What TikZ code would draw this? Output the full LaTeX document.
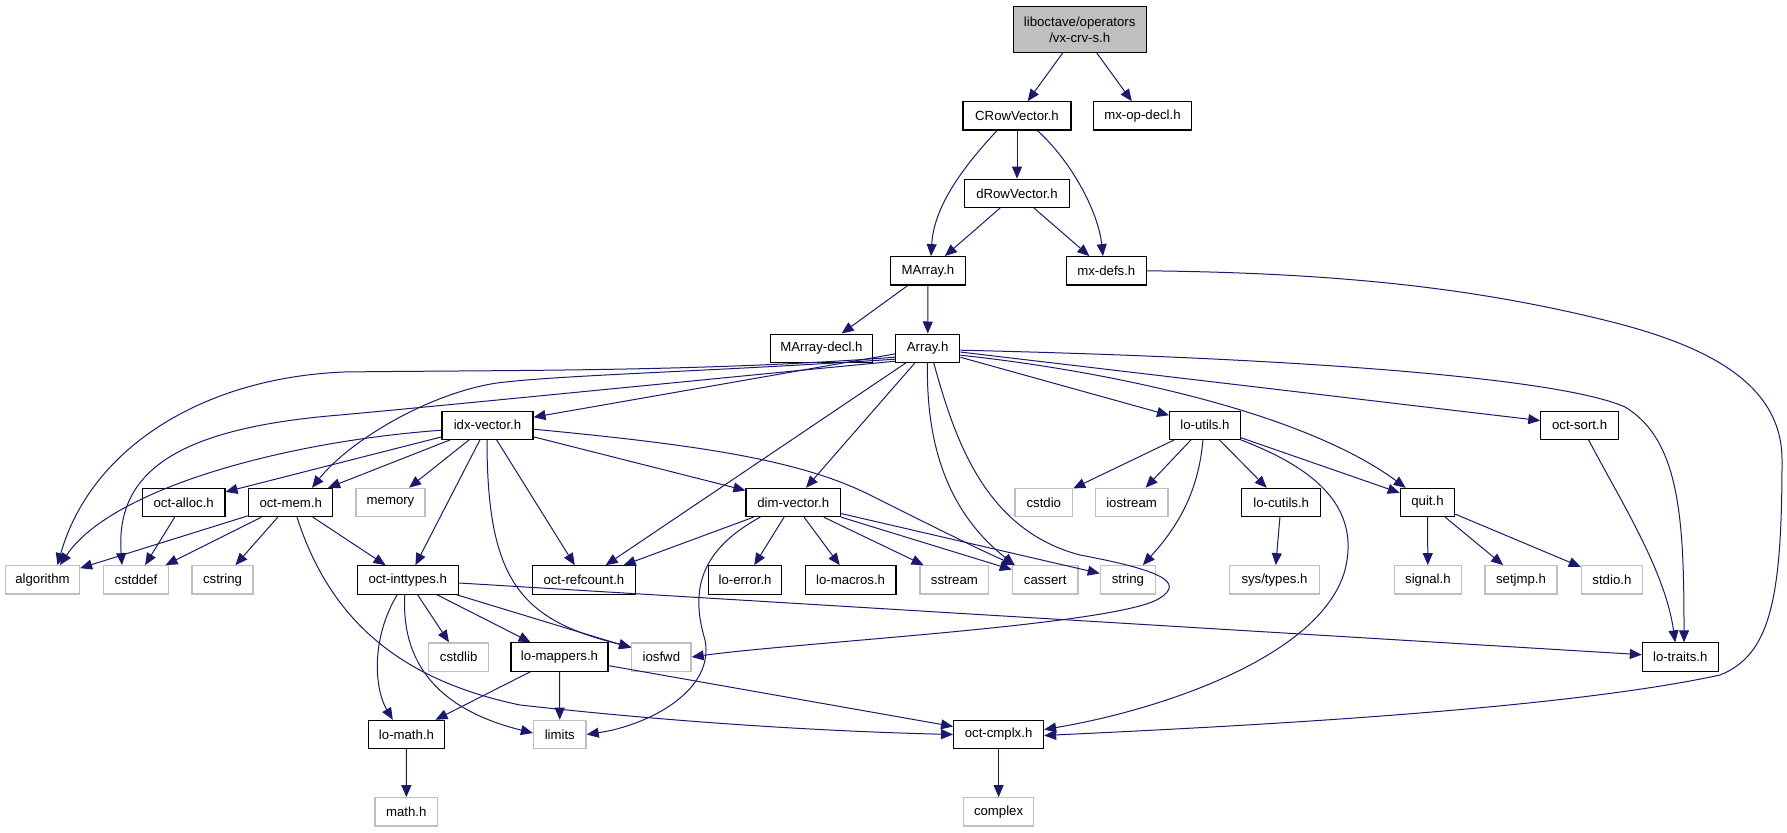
\documentclass[tikz,border=0pt]{standalone}
\usepackage{fontspec}
\setmainfont{Liberation Sans}
\usetikzlibrary{arrows.meta}
\definecolor{edgeblue}{RGB}{25,25,112}
\definecolor{sysgray}{RGB}{191,191,191}
\definecolor{rootfill}{RGB}{191,191,191}
\tikzset{
  box/.style={draw=black, line width=1.1pt, rectangle, inner sep=0pt, minimum height=28.3pt,
    font=\fontsize{13.2pt}{16pt}\selectfont, text=black, align=center},
  sys/.style={box, draw=sysgray, line width=1.3pt},
  edge/.style={draw=edgeblue, line width=1pt, -{Triangle[length=12pt,width=10pt]}},
}
\begin{document}
\begin{tikzpicture}[x=1pt,y=-1pt]
\useasboundingbox (0,0) rectangle (1787,832);
% row 0
\node[box, fill=rootfill, minimum width=132.8pt, minimum height=45.6pt] (root) at (1079.7,29.5) {liboctave/operators\\/vx-crv-s.h};
% row 1
\node[box, minimum width=108pt] (CRow) at (1017,115.9) {CRowVector.h};
\node[box, minimum width=97.6pt] (mxop) at (1142.5,115.9) {mx-op-decl.h};
% row 2
\node[box, minimum width=105.7pt] (dRow) at (1017,193.3) {dRowVector.h};
% row 3
\node[box, minimum width=75pt] (MArray) at (928,270.8) {MArray.h};
\node[box, minimum width=80.4pt] (mxdefs) at (1106.3,270.8) {mx-defs.h};
% row 4
\node[box, minimum width=102.7pt] (MArraydecl) at (821.4,348.2) {MArray-decl.h};
\node[box, minimum width=64.3pt] (Array) at (927.7,348.2) {Array.h};
% row 5
\node[box, minimum width=91pt] (idx) at (487.5,425.2) {idx-vector.h};
\node[box, minimum width=70.7pt] (loutils) at (1204.9,425.2) {lo-utils.h};
\node[box, minimum width=77.6pt] (octsort) at (1579.6,425.2) {oct-sort.h};
% row 6
\node[box, minimum width=82.6pt] (octalloc) at (183.7,502.5) {oct-alloc.h};
\node[box, minimum width=84pt] (octmem) at (290.7,502.5) {oct-mem.h};
\node[sys, minimum width=69pt] (memory) at (390.5,502.5) {memory};
\node[box, minimum width=94.5pt] (dimvec) at (793.2,502.5) {dim-vector.h};
\node[sys, minimum width=57.5pt] (cstdio) at (1043.8,502.5) {cstdio};
\node[sys, minimum width=72.6pt] (iostream) at (1131.6,502.5) {iostream};
\node[box, minimum width=78.8pt] (locutils) at (1281.2,502.5) {lo-cutils.h};
\node[box, minimum width=54.5pt] (quit) at (1427.5,502.5) {quit.h};
% row 7
\node[sys, minimum width=74pt] (algorithm) at (42.5,579.9) {algorithm};
\node[sys, minimum width=64.7pt] (cstddef) at (136,579.9) {cstddef};
\node[sys, minimum width=61pt] (cstring) at (222.5,579.9) {cstring};
\node[box, minimum width=101.5pt] (octint) at (407.8,579.9) {oct-inttypes.h};
\node[box, minimum width=102.7pt] (octref) at (583.9,579.9) {oct-refcount.h};
\node[box, minimum width=73pt] (loerror) at (745.1,579.9) {lo-error.h};
\node[box, minimum width=90.8pt] (lomacros) at (850.6,579.9) {lo-macros.h};
\node[sys, minimum width=68.8pt] (sstream) at (954.4,579.9) {sstream};
\node[sys, minimum width=65.6pt] (cassert) at (1045.2,579.9) {cassert};
\node[sys, minimum width=55pt] (string) at (1127.9,579.9) {string};
\node[sys, minimum width=90.6pt] (systypes) at (1274.5,579.9) {sys/types.h};
\node[sys, minimum width=66.7pt] (signal) at (1427.9,579.9) {signal.h};
\node[sys, minimum width=72pt] (setjmp) at (1521,579.9) {setjmp.h};
\node[sys, minimum width=61pt] (stdio) at (1611.9,579.9) {stdio.h};
% row 8
\node[sys, minimum width=60.2pt] (cstdlib) at (458.7,657) {cstdlib};
\node[box, minimum width=97pt] (lomappers) at (559.5,657) {lo-mappers.h};
\node[sys, minimum width=59.3pt] (iosfwd) at (661.4,657) {iosfwd};
\node[box, minimum width=75.7pt] (lotraits) at (1680.2,657) {lo-traits.h};
% row 9
\node[box, minimum width=76.3pt] (lomath) at (406.5,734.5) {lo-math.h};
\node[sys, minimum width=52.5pt] (limits) at (559.8,734.5) {limits};
\node[box, minimum width=90pt] (octcmplx) at (998.6,734.5) {oct-cmplx.h};
% row 10
\node[sys, minimum width=62.5pt] (mathh) at (406.3,811.9) {math.h};
\node[sys, minimum width=70.4pt] (complex) at (998.6,811.9) {complex};

% straight edges
\foreach \a/\b in {root/CRow, root/mxop, CRow/dRow, dRow/MArray, dRow/mxdefs,
  MArray/MArraydecl, MArray/Array, Array/idx, Array/octref, Array/dimvec, Array/loutils, Array/octsort,
  idx/octalloc, idx/octmem, idx/memory, idx/octint, idx/octref, idx/dimvec,
  octalloc/cstddef, octmem/algorithm, octmem/cstddef, octmem/cstring, octmem/octint,
  dimvec/octref, dimvec/loerror, dimvec/lomacros, dimvec/sstream, dimvec/cassert, dimvec/string,
  octint/cstdlib, octint/lomappers, octint/iosfwd, octint/lotraits,
  lomappers/lomath, lomappers/limits, lomappers/octcmplx, lomath/mathh, octcmplx/complex,
  loutils/cstdio, loutils/iostream, loutils/locutils, loutils/quit, locutils/systypes,
  quit/signal, quit/setjmp, quit/stdio}
  \draw[edge] (\a) -- (\b);

% curved edges
\draw[edge] ([xshift=-20pt]CRow.south) .. controls (965,165) and (934,205) .. ([xshift=3pt]MArray.north);
\draw[edge] ([xshift=20.4pt]CRow.south) .. controls (1070,160) and (1098,210) .. ([xshift=-3.3pt]mxdefs.north);
\draw[edge] (mxdefs.east) .. controls (1350,273) and (1480,290) .. (1600,319)
  .. controls (1700,343) and (1782,380) .. (1782,460)
  .. controls (1782,600) and (1770,655) .. (1720,675)
  .. controls (1550,712) and (1200,728) .. ([yshift=-1pt]octcmplx.east);
\draw[edge] ([yshift=-9pt]Array.west) .. controls (700,372) and (500,370) .. (344,372)
  .. controls (200,378) and (90,450) .. ([xshift=15pt]algorithm.north);
\draw[edge] ([yshift=-11pt]Array.west) .. controls (700,372) and (560,375) .. (497,383)
  .. controls (430,393) and (350,440) .. ([xshift=21.3pt]octmem.north);
\draw[edge] ([yshift=-13pt]Array.west) .. controls (700,380) and (450,405) .. (340,415)
  .. controls (180,428) and (115,470) .. ([xshift=-14pt]cstddef.north);
\draw[edge] ([xshift=-0.2pt]Array.south) .. controls (926,440) and (945,510) .. ([xshift=3pt]cassert.north west);
\draw[edge] ([xshift=6pt]Array.south) .. controls (955,440) and (985,530) .. (1080,555)
  .. controls (1160,570) and (1185,582) .. (1160,598)
  .. controls (1120,625) and (800,642) .. (iosfwd.east);
\draw[edge] ([yshift=-7pt]Array.east) .. controls (1100,370) and (1300,410) .. ([xshift=6pt]quit.north west);
\draw[edge] ([yshift=-2pt]Array.east) .. controls (1300,358) and (1560,378) .. (1625,407)
  .. controls (1680,440) and (1684,520) .. ([xshift=3.8pt]lotraits.north);
\draw[edge] ([xshift=9pt]octsort.south) .. controls (1620,500) and (1665,570) .. ([xshift=-5pt]lotraits.north);
\draw[edge] ([yshift=-5pt]idx.west) .. controls (280,442) and (110,490) .. ([xshift=17.5pt]algorithm.north);
\draw[edge] ([xshift=-0.5pt]idx.south) .. controls (487,580) and (520,620) .. ([yshift=10pt]iosfwd.west);
\draw[edge] ([yshift=-4pt]idx.east) .. controls (700,445) and (800,460) .. (870,495)
  .. controls (930,525) and (980,550) .. ([xshift=3pt]cassert.north west);
\draw[edge] ([xshift=-33pt]dimvec.south) .. controls (700,550) and (690,590) .. (705,640)
  .. controls (715,690) and (650,725) .. (limits.east);
\draw[edge] ([xshift=-10.5pt]octint.south) .. controls (370,640) and (375,690) .. ([xshift=-13.7pt]lomath.north);
\draw[edge] ([xshift=-3pt]octint.south) .. controls (400,680) and (460,715) .. ([yshift=1.5pt]limits.west);
\draw[edge] ([xshift=6.3pt]octmem.south) .. controls (330,620) and (400,680) .. (520,705)
  .. controls (700,725) and (850,732) .. (octcmplx.west);
\draw[edge] ([xshift=-2pt]loutils.south) .. controls (1198,500) and (1170,535) .. ([xshift=15pt]string.north);
\draw[edge] (loutils.south east) .. controls (1320,470) and (1360,510) .. (1345,570)
  .. controls (1320,660) and (1150,712) .. ([yshift=5pt]octcmplx.east);
\end{tikzpicture}
\end{document}
